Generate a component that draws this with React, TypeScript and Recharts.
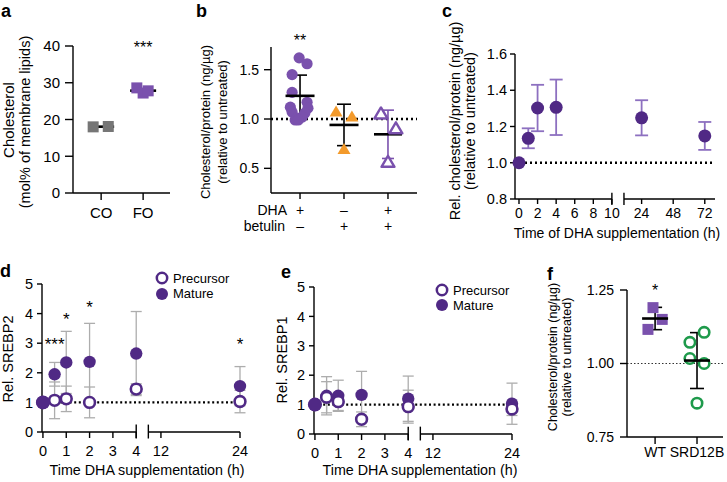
import React from 'react';
import { ScatterChart, Scatter, XAxis, YAxis, ErrorBar, ReferenceLine, ReferenceDot } from 'recharts';

const W = 727;
const H = 482;
const YW = 40;
const XH = 30;
const FONT = '"Liberation Sans", Arial, Helvetica, sans-serif';

const PURPLE = '#7A51AD';
const DARK = '#502985';
const LILAC = '#8D70C0';
const ORANGE = '#F39A2B';
const GREEN = '#1E9A4B';
const GREY = '#767676';
const BAR_GREY = '#ADADAD';

// a: membrane cholesterol (mol%)
const aCategories = ['CO', 'FO'];
const aCO = [18.0, 18.1];
const aFO = [28.6, 27.2, 27.8];
const aMean = [18.05, 27.85];
const aCOJitter = [-0.19, 0.17];
const aFOJitter = [-0.15, 0, 0.12];

// b: cholesterol/protein, DHA / betulin
const bDHA = ['+', '–', '+'];
const bBetulin = ['–', '+', '+'];
const bDhaOnly = [1.62, 1.56, 1.45, 1.27, 1.17, 1.12, 1.11, 1.07, 1.06, 1.02, 1.01, 0.99, 0.99];
const bDhaOnlyJitter = [-0.02, 0.16, -0.18, -0.18, 0.16, -0.22, 0.18, -0.18, 0.11, 0.05, -0.07, -0.11, -0.04];
const bBetulinOnly = [1.07, 1.02, 0.69];
const bBetulinOnlyJitter = [-0.18, 0.18, 0];
const bBoth = [1.05, 0.9, 0.56];
const bBothJitter = [-0.16, 0.18, 0];
const bMean = [1.235, 0.94, 0.845];
const bSD = [0.21, 0.21, 0.245];

// c: time course of relative cholesterol
const cHours = [0, 1, 2, 4, 24, 72];
const cMean = [1.0, 1.135, 1.302, 1.306, 1.248, 1.148];
const cSEM = [0, 0.055, 0.128, 0.153, 0.097, 0.077];
const cTickHours = [0, 2, 4, 6, 8, 10, 24, 48, 72];

// d: SREBP2
const dHours = [0, 0.5, 1, 2, 4, 24];
const dMature = [1.0, 1.95, 2.35, 2.37, 2.65, 1.55];
const dMatureSD = [0, 0.4, 1.05, 1.3, 1.42, 0.66];
const dPrecursor = [1.0, 1.07, 1.12, 1.0, 1.45, 1.03];
const dPrecursorSD = [0, 0.62, 0.43, 0.52, 0.18, 0.38];

// e: SREBP1
const eMature = [1.0, 1.3, 1.3, 1.33, 1.2, 1.03];
const eMatureSD = [0, 0.65, 0.53, 0.8, 0.77, 0.7];
const ePrecursor = [1.0, 1.25, 1.1, 0.5, 0.93, 0.85];
const ePrecursorSD = [0, 0.53, 0.3, 0.25, 0.56, 0.22];
const deTickHours = [0, 1, 2, 3, 4, 12, 24];

// f: WT vs SRD12B
const fCategories = ['WT', 'SRD12B'];
const fWT = [1.19, 1.15, 1.116];
const fWTJitter = [-0.05, 0.17, -0.17];
const fSRD = [1.106, 1.072, 1.017, 1.0, 0.865];
const fSRDJitter = [0.17, -0.17, -0.17, 0.17, 0];
const fMean = [1.153, 1.01];
const fSD = [0.038, 0.095];

// broken time axes
const cPos = (h: number) => (h <= 10 ? h : 9.8 + (h * 3.4) / 24);
const dPos = (h: number) => (h <= 4 ? h : 1.67 + h * 0.2825);

const frame = (x0: number, y0: number, x1: number, y1: number) => ({
  top: y0,
  left: x0 - YW,
  right: W - x1,
  bottom: H - y1 - XH,
});

const xStyle = (fontSize: number, tickSize: number, tickMargin: number) => ({
  height: XH,
  tickSize,
  tickMargin,
  interval: 0 as const,
  tick: { fill: '#000', fontSize, fontFamily: FONT },
  tickLine: { stroke: '#000', strokeWidth: 1.4 },
  axisLine: { stroke: '#000', strokeWidth: 1.4 },
});

const yStyle = (fontSize: number, tickSize: number, tickMargin: number) => ({
  width: YW,
  tickSize,
  tickMargin,
  interval: 0 as const,
  tick: { fill: '#000', fontSize, fontFamily: FONT },
  tickLine: { stroke: '#000', strokeWidth: 1.4 },
  axisLine: { stroke: '#000', strokeWidth: 1.4 },
});

const square = (color: string, s: number) => (p: any) => (
  <rect x={p.cx - s / 2} y={p.cy - s / 2} width={s} height={s} fill={color} />
);
const dot = (color: string, r: number) => (p: any) => <circle cx={p.cx} cy={p.cy} r={r} fill={color} />;
const ring = (color: string, r: number, sw: number) => (p: any) => (
  <circle cx={p.cx} cy={p.cy} r={r} fill="#fff" stroke={color} strokeWidth={sw} />
);
const triangle = (color: string, w: number, h: number, open = false) => (p: any) => (
  <polygon
    points={`${p.cx},${p.cy - h * 0.6} ${p.cx - w / 2},${p.cy + h * 0.4} ${p.cx + w / 2},${p.cy + h * 0.4}`}
    fill={open ? '#fff' : color}
    stroke={open ? color : 'none'}
    strokeWidth={open ? 2.4 : 0}
    strokeLinejoin="round"
  />
);
const meanLine = (half: number) => (p: any) => (
  <line x1={p.cx - half} x2={p.cx + half} y1={p.cy} y2={p.cy} stroke="#000" strokeWidth={2.6} />
);
const nothing = () => <g />;
const stars = (t: string, fs: number) => (p: any) => (
  <text x={p.cx} y={p.cy + fs * 0.58} textAnchor="middle" fontSize={fs} fontFamily={FONT} fill="#000">
    {t}
  </text>
);

const Layer = ({ children }: { children: React.ReactNode }) => (
  <div style={{ position: 'absolute', left: 0, top: 0 }}>{children}</div>
);

function PanelA() {
  const co = aCO.map((y, i) => ({ x: 1 + aCOJitter[i], y }));
  const fo = aFO.map((y, i) => ({ x: 2 + aFOJitter[i], y }));
  const means = aMean.map((y, i) => ({ x: i + 1, y }));
  return (
    <Layer>
      <ScatterChart width={W} height={H} margin={frame(73, 46, 170, 193)}>
        <XAxis type="number" dataKey="x" domain={[0.33, 2.64]} ticks={[1, 2]}
          tickFormatter={(v: number) => aCategories[Math.round(v) - 1]} {...xStyle(15, 7, 7)} />
        <YAxis type="number" dataKey="y" domain={[0, 40]} ticks={[0, 10, 20, 30, 40]} {...yStyle(15, 8, 5)} />
        <Scatter data={means} shape={meanLine(13)} isAnimationActive={false} />
        <Scatter data={co} shape={square(GREY, 11)} isAnimationActive={false} />
        <Scatter data={fo} shape={square(PURPLE, 11)} isAnimationActive={false} />
        <ReferenceDot x={2} y={40.5} ifOverflow="visible" shape={stars('***', 16)} />
      </ScatterChart>
    </Layer>
  );
}

const BTick = (p: any) => {
  const i = Math.round(p.payload.value) - 1;
  return (
    <g fontFamily={FONT} fontSize={14} fill="#000" textAnchor="middle">
      <text x={p.x} y={p.y + 16}>{bDHA[i]}</text>
      <text x={p.x} y={p.y + 32}>{bBetulin[i]}</text>
    </g>
  );
};

function PanelB() {
  const g1 = bDhaOnly.map((y, i) => ({ x: 1 + bDhaOnlyJitter[i], y }));
  const g2 = bBetulinOnly.map((y, i) => ({ x: 2 + bBetulinOnlyJitter[i], y }));
  const g3 = bBoth.map((y, i) => ({ x: 3 + bBothJitter[i], y }));
  const summary = bMean.map((y, i) => ({ x: i + 1, y, e: bSD[i] }));
  return (
    <Layer>
      <ScatterChart width={W} height={H} margin={frame(271, 47, 417, 193)}>
        <XAxis type="number" dataKey="x" domain={[0.34, 3.66]} ticks={[1, 2, 3]} {...xStyle(14, 6, 0)} tick={BTick} />
        <YAxis type="number" dataKey="y" domain={[0.25, 1.73]} ticks={[0.5, 1.0, 1.5]}
          tickFormatter={(v: number) => v.toFixed(1)} {...yStyle(14, 7, 5)} />
        <ReferenceLine y={1} stroke="#000" strokeWidth={2.4} strokeDasharray="2 3" />
        <Scatter data={summary.slice(2)} shape={meanLine(14)} isAnimationActive={false}>
          <ErrorBar dataKey="e" direction="y" width={6} stroke={PURPLE} strokeWidth={1.6} />
        </Scatter>
        <Scatter data={g1} shape={dot(PURPLE, 5.6)} isAnimationActive={false} />
        <Scatter data={g2} shape={triangle(ORANGE, 13, 11)} isAnimationActive={false} />
        <Scatter data={g3} shape={triangle(PURPLE, 13, 11, true)} isAnimationActive={false} />
        <Scatter data={summary.slice(0, 2)} shape={meanLine(14.5)} isAnimationActive={false}>
          <ErrorBar dataKey="e" direction="y" width={7} stroke="#000" strokeWidth={1.6} />
        </Scatter>
        <ReferenceDot x={1} y={1.83} ifOverflow="visible" shape={stars('**', 16)} />
      </ScatterChart>
    </Layer>
  );
}

function PanelC() {
  const data = cHours.map((h, i) => ({ x: cPos(h), y: cMean[i], e: cSEM[i] }));
  const seg = { stroke: '#000', strokeWidth: 1.4, ifOverflow: 'visible' as const };
  return (
    <Layer>
      <ScatterChart width={W} height={H} margin={frame(515, 54, 715, 199)}>
        <XAxis type="number" dataKey="x" domain={[-0.43, 21.1]} ticks={cTickHours.map(cPos)}
          tickFormatter={(_v: number, i: number) => String(cTickHours[i])} {...xStyle(14, 5, 4)} axisLine={false} />
        <YAxis type="number" dataKey="y" domain={[0.8, 1.6]} ticks={[0.8, 1.0, 1.2, 1.4, 1.6]}
          tickFormatter={(v: number) => v.toFixed(1)} {...yStyle(14.5, 5, 3)} />
        <ReferenceLine y={1} stroke="#000" strokeWidth={2.4} strokeDasharray="2 3" />
        <ReferenceLine segment={[{ x: -0.43, y: 0.8 }, { x: 10, y: 0.8 }]} {...seg} />
        <ReferenceLine segment={[{ x: 11.3, y: 0.8 }, { x: 21.1, y: 0.8 }]} {...seg} />
        <ReferenceLine segment={[{ x: 10, y: 0.767 }, { x: 10, y: 0.835 }]} {...seg} />
        <ReferenceLine segment={[{ x: 11.3, y: 0.767 }, { x: 11.3, y: 0.835 }]} {...seg} />
        <Scatter data={data} shape={dot(DARK, 6.5)} isAnimationActive={false}>
          <ErrorBar dataKey="e" direction="y" width={6.5} stroke={LILAC} strokeWidth={1.8} />
        </Scatter>
      </ScatterChart>
    </Layer>
  );
}

function SrebpPanel(props: {
  x0: number; y0: number; x1: number; y1: number;
  mature: number[]; matureSD: number[]; precursor: number[]; precursorSD: number[];
  marks?: { h: number; y: number; t: string }[];
}) {
  const { x0, y0, x1, y1 } = props;
  const mature = dHours.map((h, i) => ({ x: dPos(h), y: props.mature[i], e: props.matureSD[i], h }));
  const precursor = dHours.map((h, i) => ({ x: dPos(h), y: props.precursor[i], e: props.precursorSD[i] }));
  const seg = { stroke: '#000', strokeWidth: 1.4, ifOverflow: 'visible' as const };
  return (
    <Layer>
      <ScatterChart width={W} height={H} margin={frame(x0, y0, x1, y1)}>
        <XAxis type="number" dataKey="x" domain={[-0.04, 8.45]} ticks={deTickHours.map(dPos)}
          tickFormatter={(_v: number, i: number) => String(deTickHours[i])} {...xStyle(14.5, 6, 8)} axisLine={false} />
        <YAxis type="number" dataKey="y" domain={[0, 5]} ticks={[0, 1, 2, 3, 4, 5]} {...yStyle(14.5, 5, 4)} />
        <ReferenceLine y={1} stroke="#000" strokeWidth={2.2} strokeDasharray="2 2.6" />
        <ReferenceLine segment={[{ x: -0.04, y: 0 }, { x: 4, y: 0 }]} {...seg} />
        <ReferenceLine segment={[{ x: 4.52, y: 0 }, { x: 8.45, y: 0 }]} {...seg} />
        <ReferenceLine segment={[{ x: 4, y: -0.22 }, { x: 4, y: 0.25 }]} {...seg} />
        <ReferenceLine segment={[{ x: 4.52, y: -0.22 }, { x: 4.52, y: 0.25 }]} {...seg} />
        <Scatter data={mature} shape={nothing} isAnimationActive={false}>
          <ErrorBar dataKey="e" direction="y" width={5.5} stroke={BAR_GREY} strokeWidth={1.3} />
        </Scatter>
        <Scatter data={mature} shape={dot(DARK, 6.2)} isAnimationActive={false} />
        <Scatter data={precursor} shape={ring(DARK, 5.4, 2.6)} isAnimationActive={false}>
          <ErrorBar dataKey="e" direction="y" width={5.5} stroke={BAR_GREY} strokeWidth={1.3} />
        </Scatter>
        <Scatter data={mature.filter((d) => d.h === 0)} shape={dot(DARK, 7)} isAnimationActive={false} />
        {(props.marks || []).map((m, i) => (
          <ReferenceDot key={i} x={dPos(m.h)} y={m.y} ifOverflow="visible" shape={stars(m.t, 17)} />
        ))}
      </ScatterChart>
    </Layer>
  );
}

function PanelF() {
  const wt = fWT.map((y, i) => ({ x: 1 + fWTJitter[i], y }));
  const srd = fSRD.map((y, i) => ({ x: 2 + fSRDJitter[i], y }));
  const summary = fMean.map((y, i) => ({ x: i + 1, y, e: fSD[i] }));
  return (
    <Layer>
      <ScatterChart width={W} height={H} margin={frame(627, 290, 723, 437)}>
        <XAxis type="number" dataKey="x" domain={[0.33, 2.62]} ticks={[1, 2]}
          tickFormatter={(v: number) => fCategories[Math.round(v) - 1]} {...xStyle(14, 7, 3)} />
        <YAxis type="number" dataKey="y" domain={[0.75, 1.25]} ticks={[0.75, 1.0, 1.25]}
          tickFormatter={(v: number) => v.toFixed(2)} {...yStyle(14, 7, 6)} />
        <ReferenceLine y={1} stroke="#333" strokeWidth={1.1} strokeDasharray="1.5 2" />
        <Scatter data={wt} shape={square(PURPLE, 11)} isAnimationActive={false} />
        <Scatter data={srd} shape={ring(GREEN, 5.2, 2.6)} isAnimationActive={false} />
        <Scatter data={summary} shape={meanLine(13)} isAnimationActive={false}>
          <ErrorBar dataKey="e" direction="y" width={7} stroke="#000" strokeWidth={1.6} />
        </Scatter>
        <ReferenceDot x={1} y={1.262} ifOverflow="visible" shape={stars('*', 16)} />
      </ScatterChart>
    </Layer>
  );
}

function Overlay() {
  const t = { fontFamily: FONT, fill: '#000' };
  const rot = (cx: number, base: number, size: number, s: string) => (
    <text transform="rotate(-90)" x={-cx} y={base} textAnchor="middle" fontSize={size} {...t}>{s}</text>
  );
  return (
    <svg width={W} height={H} style={{ position: 'absolute', left: 0, top: 0 }}>
      <g fontWeight="bold" fontSize={18} {...t}>
        <text x={1} y={17}>a</text>
        <text x={196} y={17}>b</text>
        <text x={442} y={17}>c</text>
        <text x={0} y={277}>d</text>
        <text x={281} y={278}>e</text>
        <text x={547} y={280}>f</text>
      </g>
      {rot(120, 14, 15, 'Cholesterol')}
      {rot(122, 30, 14.5, '(mol% of membrane lipids)')}
      {rot(122, 210, 13, 'Cholesterol/protein (ng/µg)')}
      {rot(122, 227, 13, '(relative to untreated)')}
      {rot(121, 460, 14.5, 'Rel. cholesterol/protein (ng/µg)')}
      {rot(121, 475, 14.5, '(relative to untreated)')}
      {rot(359, 13, 14.5, 'Rel. SREBP2')}
      {rot(360, 287, 14.5, 'Rel. SREBP1')}
      {rot(357, 557, 12.5, 'Cholesterol/protein (ng/µg)')}
      {rot(357, 571, 12.5, '(relative to untreated)')}
      <text x={287} y={215} textAnchor="end" fontSize={14} {...t}>DHA</text>
      <text x={285} y={231} textAnchor="end" fontSize={14} {...t}>betulin</text>
      <text x={617} y={238} textAnchor="middle" fontSize={14} {...t}>Time of DHA supplementation (h)</text>
      <text x={147} y={475} textAnchor="middle" fontSize={14.3} {...t}>Time DHA supplementation (h)</text>
      <text x={420} y={475} textAnchor="middle" fontSize={14.3} {...t}>Time DHA supplementation (h)</text>
      <circle cx={162} cy={278} r={5.2} fill="#fff" stroke={DARK} strokeWidth={2.5} />
      <text x={173} y={283} fontSize={13} {...t}>Precursor</text>
      <circle cx={162} cy={294} r={6} fill={DARK} />
      <text x={173} y={298} fontSize={13} {...t}>Mature</text>
      <circle cx={442} cy={290} r={5.2} fill="#fff" stroke={DARK} strokeWidth={2.5} />
      <text x={453} y={295} fontSize={13} {...t}>Precursor</text>
      <circle cx={442} cy={305} r={6} fill={DARK} />
      <text x={453} y={310} fontSize={13} {...t}>Mature</text>
    </svg>
  );
}

const dMarks = [
  { h: 0.5, y: 3.1, t: '***' },
  { h: 1, y: 3.95, t: '*' },
  { h: 2, y: 4.36, t: '*' },
  { h: 24, y: 3.1, t: '*' },
];

export default function App() {
  return (
    <div style={{ position: 'absolute', left: 0, top: 0, width: W, height: H, background: '#fff', fontFamily: FONT }}>
      <PanelA />
      <PanelB />
      <PanelC />
      <SrebpPanel x0={42} y0={284} x1={240} y1={432} mature={dMature} matureSD={dMatureSD}
        precursor={dPrecursor} precursorSD={dPrecursorSD} marks={dMarks} />
      <SrebpPanel x0={314} y0={287} x1={512} y1={434} mature={eMature} matureSD={eMatureSD}
        precursor={ePrecursor} precursorSD={ePrecursorSD} />
      <PanelF />
      <Overlay />
    </div>
  );
}
